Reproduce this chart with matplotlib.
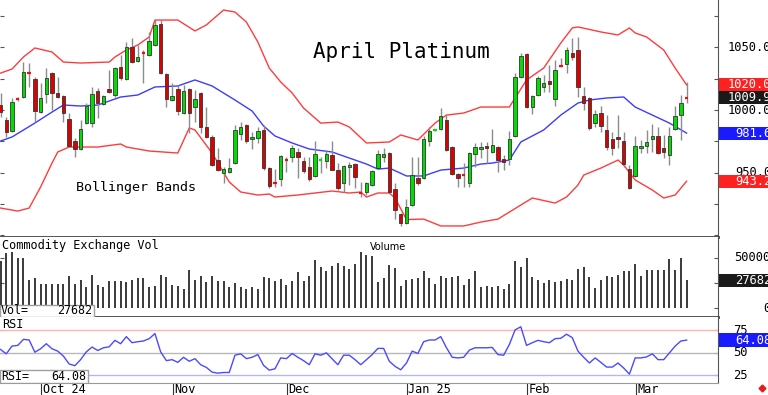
import numpy as np
import matplotlib
matplotlib.use("Agg")
import matplotlib.pyplot as plt
from matplotlib.patches import Rectangle
from matplotlib.lines import Line2D

# ---- daily OHLC, April platinum ----
opens = [
    1004.0, 992.0, 983.3, 1009.2, 1010.4, 1030.6, 1024.8, 998.4, 1012.8, 1029.5,
    1013.6, 1011.2, 992.8, 975.3, 968.9, 989.6, 989.6, 1015.2, 1004.8, 1016.8,
    1012.0, 1034.3, 1024.8, 1050.3, 1039.1, 1046.7, 1043.9, 1051.9, 1068.6, 1028.7,
    1008.0, 1016.8, 997.6, 1016.8, 1002.4, 1013.6, 986.5, 978.5, 960.1, 949.7,
    950.5, 957.7, 980.9, 988.0, 976.9, 977.7, 984.1, 953.7, 942.2, 945.0,
    961.3, 962.5, 966.5, 959.3, 954.5, 947.4, 959.3, 959.3, 964.1, 952.1,
    941.8, 954.5, 956.9, 935.0, 934.6, 940.2, 953.7, 962.5, 965.7, 937.0,
    917.0, 909.8, 924.2, 945.8, 945.8, 975.3, 983.7, 984.9, 992.0, 970.5,
    948.9, 949.3, 941.8, 964.9, 968.9, 971.3, 966.5, 970.5, 960.9, 960.9,
    979.3, 1026.4, 1044.7, 1002.4, 1012.0, 1018.4, 1023.2, 1008.8, 1035.5, 1036.7,
    1045.5, 1047.9, 1011.2, 1009.6, 989.6, 997.6, 984.1, 976.9, 978.5, 975.3,
    952.9, 947.4, 969.7, 971.3, 976.9, 979.3, 969.7, 964.1, 984.9, 996.0,
    1010.4]
highs = [
    1013.6, 994.4, 1009.6, 1010.4, 1038.3, 1037.5, 1026.4, 1021.6, 1033.5, 1030.3,
    1026.4, 1012.0, 997.6, 977.7, 992.0, 1005.6, 1018.4, 1017.6, 1012.0, 1031.9,
    1034.3, 1043.9, 1054.3, 1057.5, 1051.9, 1047.9, 1062.3, 1071.8, 1071.8, 1029.5,
    1021.6, 1020.0, 1020.0, 1017.6, 1016.0, 1014.4, 1002.4, 980.1, 969.7, 954.5,
    961.7, 988.0, 990.4, 988.8, 982.5, 986.5, 988.0, 954.5, 952.9, 964.1,
    962.5, 972.1, 969.7, 962.5, 962.5, 975.3, 962.5, 968.1, 975.3, 957.7,
    956.1, 958.5, 957.7, 942.6, 942.6, 952.1, 968.1, 969.7, 966.5, 941.8,
    917.8, 929.0, 962.5, 962.5, 979.3, 986.5, 985.0, 1001.6, 996.0, 971.3,
    949.7, 957.7, 966.5, 973.7, 974.5, 974.5, 984.9, 971.3, 964.1, 983.3,
    1029.5, 1045.5, 1045.5, 1012.0, 1027.2, 1027.9, 1035.9, 1039.9, 1041.5, 1050.3,
    1057.5, 1058.3, 1018.4, 1010.4, 1000.0, 1003.2, 996.0, 982.5, 996.0, 982.5,
    956.1, 979.3, 976.1, 984.1, 988.8, 986.5, 980.1, 986.5, 1003.2, 1012.0,
    1022.4]
lows = [
    994.4, 978.5, 982.5, 1007.2, 1009.6, 1018.4, 990.4, 997.6, 1005.6, 1000.0,
    1009.6, 990.4, 970.5, 962.5, 968.1, 988.8, 986.5, 993.6, 1004.0, 1013.6,
    1010.4, 1024.0, 1024.0, 1037.5, 1038.3, 1021.6, 1043.1, 1051.1, 1028.7, 1002.4,
    1007.2, 996.0, 996.8, 981.7, 990.4, 981.7, 977.7, 955.3, 951.3, 941.8,
    949.7, 956.9, 976.1, 973.7, 968.9, 973.7, 952.1, 937.8, 938.6, 939.4,
    950.5, 958.5, 945.8, 949.7, 943.4, 946.6, 949.7, 953.7, 952.1, 936.2,
    934.6, 940.2, 937.8, 930.6, 932.2, 939.4, 952.9, 958.5, 933.8, 913.0,
    907.5, 909.0, 923.4, 940.2, 945.0, 971.3, 983.0, 984.1, 967.3, 948.1,
    938.6, 938.6, 938.6, 954.5, 961.7, 957.7, 965.7, 950.5, 952.1, 956.1,
    978.5, 1025.6, 1001.6, 996.8, 1011.2, 1014.4, 1014.4, 1003.2, 1034.3, 1029.5,
    1039.9, 1010.4, 1000.0, 984.1, 986.5, 982.5, 968.1, 964.1, 969.7, 954.5,
    937.0, 946.6, 965.7, 965.7, 966.5, 964.9, 961.7, 956.1, 984.1, 976.1,
    1005.6]
closes = [
    998.4, 982.5, 1006.4, 1008.8, 1030.3, 1029.9, 999.2, 1009.6, 1025.6, 1013.6,
    1010.4, 997.6, 971.3, 968.9, 984.9, 1003.2, 1012.8, 1005.6, 1011.2, 1014.4,
    1033.5, 1025.6, 1050.3, 1038.3, 1042.3, 1045.9, 1055.1, 1067.9, 1029.5, 1008.8,
    1011.2, 999.2, 1015.2, 997.6, 1008.8, 986.5, 978.5, 956.1, 952.1, 952.9,
    953.7, 984.1, 986.5, 975.3, 978.5, 983.3, 953.7, 939.4, 941.4, 963.3,
    960.5, 969.7, 962.5, 951.3, 945.0, 964.9, 960.1, 964.9, 952.1, 937.8,
    955.3, 956.1, 946.6, 934.2, 941.8, 951.3, 964.9, 964.9, 934.6, 920.2,
    909.8, 922.6, 948.1, 941.8, 976.9, 983.3, 984.1, 995.2, 968.1, 948.9,
    945.8, 948.5, 965.7, 970.5, 970.5, 969.7, 972.1, 960.1, 958.5, 976.9,
    1026.4, 1043.1, 1002.4, 1011.2, 1025.6, 1021.6, 1020.8, 1031.9, 1035.1, 1047.9,
    1042.3, 1018.4, 1005.6, 985.7, 996.8, 987.3, 970.5, 969.7, 976.9, 956.9,
    937.8, 971.3, 971.3, 974.5, 979.3, 965.7, 966.5, 979.3, 995.2, 1005.6,
    1009.9]

# Bollinger bands, read at the bars where their shape changes
up_idx = [0, 2, 4, 6, 9, 11, 14, 19, 20, 22, 24, 26, 27, 31, 34, 36, 39, 41, 43, 45,
          47, 49, 51, 53, 56, 59, 61, 64, 68, 70, 73, 76, 78, 81, 84, 89, 92, 95, 98, 100,
          101, 105, 108, 110, 111, 113, 116, 118, 120]
up_val = [1029.5, 1032.7, 1042.3, 1049.5, 1046.3, 1038.3, 1037.5, 1038.3, 1042.3, 1047.9,
          1051.9, 1058.3, 1071.8, 1071.8, 1063.1, 1067.9, 1079.8, 1078.2, 1070.2, 1054.3,
          1033.5, 1022.4, 1013.6, 1001.6, 989.6, 990.4, 986.5, 973.7, 974.5, 980.1,
          976.1, 989.6, 996.0, 997.6, 1002.4, 1002.4, 1024.0, 1033.5, 1053.5, 1065.5,
          1066.3, 1062.3, 1059.9, 1065.5, 1061.5, 1058.3, 1047.9, 1033.5, 1020.0]
mid_idx = [0, 2, 6, 9, 11, 14, 17, 19, 21, 24, 27, 31, 34, 37, 41, 44, 46, 48, 51, 54,
           58, 61, 64, 66, 68, 71, 74, 77, 81, 84, 86, 89, 91, 95, 98, 101, 103, 106, 109, 111,
           114, 117, 120]
mid_val = [975.3, 978.5, 989.6, 998.4, 1004.0, 1003.2, 1004.0, 1007.2, 1010.4, 1012.0,
           1018.4, 1019.2, 1024.0, 1019.2, 1008.0, 999.2, 987.3, 979.3, 973.7, 968.9,
           966.5, 961.7, 956.9, 952.9, 953.7, 947.4, 947.4, 952.1, 953.7, 956.9,
           957.7, 960.1, 974.5, 984.1, 996.0, 1005.6, 1008.0, 1009.6, 1010.4, 1002.4,
           996.0, 989.6, 981.6]
low_idx = [0, 3, 5, 7, 9, 10, 12, 17, 21, 22, 26, 31, 33, 34, 37, 40, 42, 45, 47, 48,
           52, 58, 61, 63, 64, 66, 68, 69, 71, 74, 77, 81, 84, 87, 89, 91, 93, 97, 99, 101,
           102, 105, 108, 109, 111, 114, 116, 118, 120]
low_val = [921.8, 919.4, 921.8, 938.6, 957.7, 966.5, 970.5, 970.5, 972.9, 970.5,
           967.3, 965.7, 985.7, 984.1, 965.7, 942.6, 934.6, 932.2, 933.0, 930.6,
           932.2, 935.4, 933.8, 934.6, 930.6, 933.8, 933.8, 929.8, 912.6, 913.0,
           907.5, 907.5, 910.6, 913.0, 918.6, 924.2, 929.8, 925.8, 930.6, 940.2,
           948.1, 953.7, 960.1, 956.1, 944.2, 936.2, 929.8, 932.2, 943.2]

volumes = [
    46200, 54450, 55440, 49500, 49500, 27390, 29700, 24090, 23760, 23760,
    23760, 23760, 31680, 23760, 27390, 20460, 33000, 23100, 20790, 27060,
    26400, 26400, 25410, 27390, 29700, 29700, 21120, 21450, 33000, 30360,
    23100, 22110, 19140, 37950, 28050, 31350, 25410, 31350, 26400, 26400,
    20790, 24750, 20460, 19140, 20790, 19140, 30360, 29700, 26400, 28710,
    22440, 26400, 35640, 27060, 32010, 47850, 40260, 36300, 41910, 44550,
    41250, 38610, 43560, 55110, 52140, 51810, 25410, 30000, 42240, 39600,
    22110, 28050, 29040, 29700, 36300, 29700, 23760, 31350, 29700, 30690,
    31350, 23100, 28710, 36960, 20790, 21450, 20790, 21450, 19140, 24090,
    46200, 40920, 49500, 30360, 27390, 24750, 27390, 26070, 26400, 28710,
    27390, 38610, 40590, 30360, 19800, 28050, 31350, 30690, 32340, 36300,
    36960, 43890, 32010, 37950, 37290, 37290, 37950, 48840, 37290, 49500,
    27682]

rsi = [
    53.7, 48.9, 57.5, 58.2, 64.9, 64.2, 50.7, 54.5, 60.1, 54.5,
    51.9, 46.3, 37.7, 35.8, 42.5, 51.1, 56.4, 52.6, 55.6, 56.7,
    63.8, 60.1, 67.9, 61.2, 62.3, 63.1, 65.7, 71.3, 51.1, 41.4,
    42.5, 39.5, 45.1, 40.7, 43.6, 36.9, 33.9, 28.7, 27.6, 28.3,
    28.3, 47.4, 48.9, 43.6, 45.1, 48.1, 36.2, 30.9, 32.4, 44.4,
    43.6, 49.3, 45.1, 41.4, 36.9, 48.9, 47.4, 50.0, 43.3, 36.9,
    47.4, 47.4, 42.5, 36.9, 42.5, 48.1, 54.9, 54.9, 40.7, 35.1,
    31.3, 38.8, 51.9, 49.3, 62.3, 64.2, 64.2, 67.9, 55.6, 45.1,
    44.4, 45.1, 53.0, 55.6, 55.6, 55.6, 56.0, 48.1, 47.4, 59.3,
    75.4, 78.8, 58.2, 61.2, 63.8, 62.3, 61.2, 65.7, 66.1, 70.6,
    66.8, 51.9, 45.1, 38.8, 44.4, 39.5, 34.3, 34.3, 38.8, 33.2,
    26.5, 44.4, 44.4, 45.5, 48.9, 42.5, 42.5, 50.0, 57.5, 63.1,
    64.08]

month_idx = [7, 30, 50, 71, 92, 111]
month_lbl = ["Oct 24", "Nov", "Dec", "Jan 25", "Feb", "Mar"]

price_ticks = [900, 925, 950, 975, 1000, 1025, 1050, 1075]
price_lbls = [1050, 1000, 950]

# ---- layout (pixel based, 768x395) ----
W, H = 768, 395
PW = 718  # plot width in px
MONO = "DejaVu Sans Mono"

fig = plt.figure(figsize=(W / 100, H / 100), dpi=100)
fig.patch.set_facecolor("white")


def rect(top, bottom):
    return [0, 1 - bottom / H, PW / W, (bottom - top) / H]


axp = fig.add_axes(rect(0, 237))
axv = fig.add_axes(rect(237, 317))
axr = fig.add_axes(rect(317, 383))

o = np.array(opens)
c = np.array(closes)
x = np.arange(len(c))
xlim = (-0.1, PW / 5.717 - 0.1)

for ax in (axp, axv, axr):
    ax.set_xlim(*xlim)
    ax.set_xticks([])
    for s in ("top", "left"):
        ax.spines[s].set_visible(False)
    ax.spines["right"].set_color("#555555")
    ax.tick_params(axis="y", direction="in", length=3, width=0.8, left=True,
                   right=True, labelleft=False, labelright=False, colors="#555555")

# price panel
axp.set_ylim(898.7, 1087.8)
axp.set_yticks(price_ticks)
axp.spines["bottom"].set_linewidth(2)
axp.spines["bottom"].set_color("#444444")

axp.vlines(x, lows, highs, color="#8c8c8c", lw=1, zorder=2)
lo = np.minimum(o, c)
hgt = np.abs(c - o)
up = c >= o
big = hgt >= 1.2
axp.bar(x[big & up], hgt[big & up], bottom=lo[big & up], width=0.6,
        color="#00dd00", edgecolor="#333333", lw=0.6, zorder=3)
axp.bar(x[big & ~up], hgt[big & ~up], bottom=lo[big & ~up], width=0.6,
        color="#dd0000", edgecolor="#333333", lw=0.6, zorder=3)
for i in x[~big]:
    axp.hlines(c[i], i - 0.3, i + 0.3, color="#00dd00" if up[i] else "#ee1010",
               lw=1.6, zorder=3)

axp.plot(up_idx, up_val, color="#ff3c3c", lw=1, zorder=1)
axp.plot(low_idx, low_val, color="#ff3c3c", lw=1, zorder=1)
axp.plot(mid_idx, mid_val, color="#3c3cff", lw=1, zorder=1)

axp.text(401 / PW, 1 - 52 / 237, "April Platinum", transform=axp.transAxes,
         ha="center", va="center", fontsize=15, family=MONO)
axp.text(136 / PW, 1 - 187 / 237, "Bollinger Bands", transform=axp.transAxes,
         ha="center", va="center", fontsize=9.6, family=MONO)

ty = axp.get_yaxis_transform()
for v in price_lbls:
    axp.text(771 / PW, v, f"{v:.1f}", transform=ty, ha="right", va="center",
             fontsize=8.7, family=MONO, clip_on=False)


def tag(ax, val, h, text, fc):
    t = ax.get_yaxis_transform()
    ax.add_patch(Rectangle((719 / PW, val - h / 2), 50 / PW, h, transform=t,
                           fc=fc, ec="none", clip_on=False, zorder=5))
    ax.text(771 / PW, val, text, transform=t, ha="right", va="center", color="white",
            fontsize=8.7, family=MONO, clip_on=False, zorder=6)


tag(axp, up_val[-1], 10.4, f"{up_val[-1]:.1f}", "#ff2020")
tag(axp, closes[-1], 10.4, f"{closes[-1]:.1f}", "#1a1a1a")
tag(axp, mid_val[-1], 10.4, f"{mid_val[-1]:.1f}", "#1a1aff")
tag(axp, low_val[-1], 10.4, f"{low_val[-1]:.1f}", "#ff2020")

# volume panel
axv.set_ylim(-8700, 70300)
axv.set_yticks([0, 25000, 50000])
axv.spines["bottom"].set_linewidth(2)
axv.spines["bottom"].set_color("#444444")
axv.vlines(x, 0, volumes, color="#2a2a2a", lw=1.3)
axv.text(2 / PW, 0.9, "Commodity Exchange Vol", transform=axv.transAxes,
         ha="left", va="center", fontsize=8.6, family=MONO)
axv.text(388 / PW, 0.87, "Volume", transform=axv.transAxes,
         ha="center", va="center", fontsize=7)
axv.add_patch(Rectangle((0, 0), 94 / PW, 12 / 80, transform=axv.transAxes,
                        fc="white", ec="#a0a0a0", lw=1, zorder=5))
axv.text(1 / PW, 0.075, "Vol=", transform=axv.transAxes, ha="left", va="center",
         fontsize=8.4, family=MONO, zorder=6)
axv.text(92 / PW, 0.075, f"{volumes[-1]}", transform=axv.transAxes, ha="right",
         va="center", fontsize=8.4, family=MONO, zorder=6)
tv = axv.get_yaxis_transform()
axv.text(770 / PW, 50000, "50000", transform=tv, ha="right", va="center",
         fontsize=8.7, family=MONO, clip_on=False)
axv.text(770 / PW, 0, "0", transform=tv, ha="right", va="center",
         fontsize=8.7, family=MONO, clip_on=False)
tag(axv, volumes[-1], 13000, f"{volumes[-1]}", "#1a1a1a")

# RSI panel
axr.set_ylim(16.7, 89.6)
axr.set_yticks([25, 50, 75])
axr.spines["bottom"].set_color("#999999")
axr.axhline(75, color="#ffb4b4", lw=1)
axr.axhline(50, color="#b8b8b8", lw=1)
axr.axhline(25, color="#b4b4ff", lw=1)
axr.plot(x, rsi, color="#4a4aff", lw=1)
axr.text(2 / PW, 0.89, "RSI", transform=axr.transAxes, ha="left", va="center",
         fontsize=8.6, family=MONO)
axr.add_patch(Rectangle((0, 0), 88 / PW, 13 / 66, transform=axr.transAxes,
                        fc="white", ec="#a0a0a0", lw=1, zorder=5))
axr.text(1 / PW, 0.098, "RSI=", transform=axr.transAxes, ha="left", va="center",
         fontsize=8.4, family=MONO, zorder=6)
axr.text(86 / PW, 0.098, f"{rsi[-1]:.2f}", transform=axr.transAxes, ha="right",
         va="center", fontsize=8.4, family=MONO, zorder=6)
tr = axr.get_yaxis_transform()
for v in (75, 50, 25):
    axr.text(733 / PW, v, str(v), transform=tr, ha="left", va="center",
             fontsize=8.7, family=MONO, clip_on=False)
tag(axr, rsi[-1], 14.6, f"{rsi[-1]:.2f}", "#1a1aff")

# month axis under the RSI panel
tx = axr.get_xaxis_transform()
for i, lbl in zip(month_idx, month_lbl):
    axr.plot([i + 0.1, i + 0.1], [0, -0.19], transform=tx, color="#333333",
             lw=0.8, clip_on=False)
    axr.text(i + 0.35, -0.1, lbl, transform=tx, ha="left", va="center",
             fontsize=8.6, family=MONO, clip_on=False)

fig.add_artist(Line2D([762 / W], [1 - 388 / H], marker="D", ms=3.5,
                      color="#e02020", transform=fig.transFigure))

fig.savefig("out.png", dpi=100)
